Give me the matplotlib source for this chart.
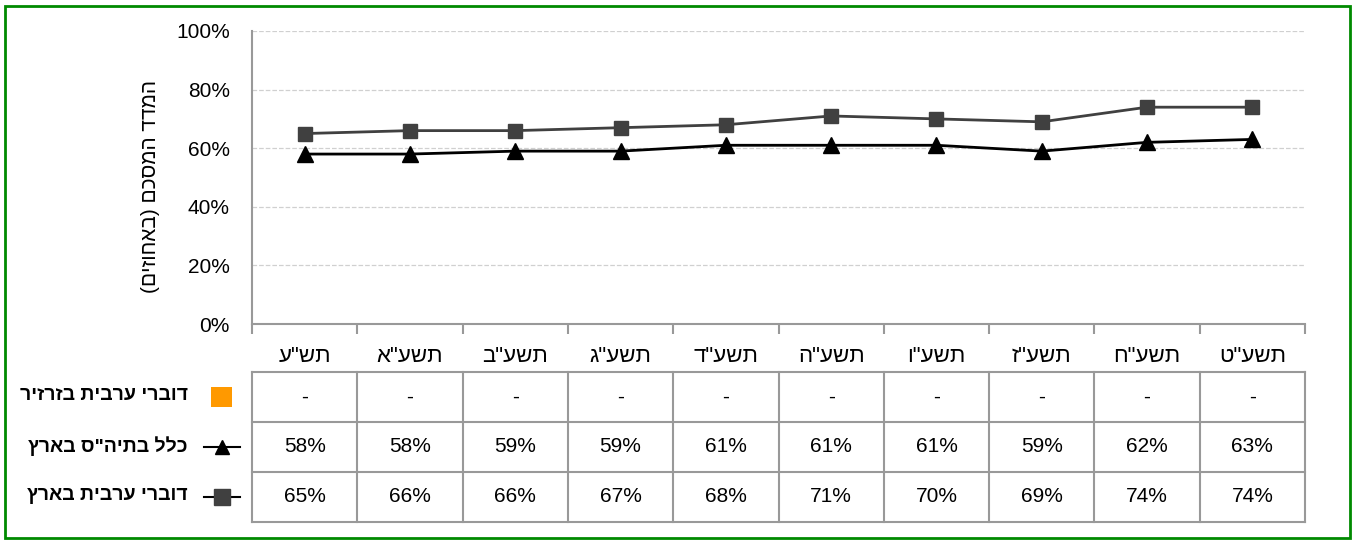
import matplotlib
matplotlib.use("Agg")
import matplotlib.pyplot as plt
from matplotlib.patches import Rectangle
from matplotlib.lines import Line2D

plt.rcParams['font.family'] = ['Liberation Sans', 'DejaVu Sans']

def heb(s):
    # matplotlib has no bidi: reverse for visual order, mirror brackets
    r = s[::-1]
    return r.translate(str.maketrans("()", ")("))

years = ['תש"ע', 'תשע"א', 'תשע"ב', 'תשע"ג', 'תשע"ד',
         'תשע"ה', 'תשע"ו', 'תשע"ז', 'תשע"ח', 'תשע"ט']
all_schools = [58, 58, 59, 59, 61, 61, 61, 59, 62, 63]
arab_country = [65, 66, 66, 67, 68, 71, 70, 69, 74, 74]
arab_rural = [None] * 10

name_rural = 'דוברי ערבית בזרזיר'
name_all = 'כלל בתיה"ס בארץ'
name_arab = 'דוברי ערבית בארץ'
ylabel = 'המדד המסכם (באחוזים)'

W, H = 1354, 544
fig = plt.figure(figsize=(W / 100, H / 100), dpi=100)

def box(l, t, r, b):
    return [l / W, 1 - b / H, (r - l) / W, (b - t) / H]

# green frame
fig.patches.append(Rectangle((5 / W, 6 / H), 1345 / W, 532 / H, transform=fig.transFigure,
                             fill=False, edgecolor='#008a00', linewidth=2))

ax = fig.add_axes(box(252, 31, 1305, 324))
x = list(range(len(years)))
ax.plot(x, [v / 100 for v in arab_country], color='#404040', lw=2, marker='s',
        markersize=10, markerfacecolor='#404040', markeredgecolor='#404040', zorder=3)
ax.plot(x, [v / 100 for v in all_schools], color='black', lw=2, marker='^',
        markersize=11, markerfacecolor='black', zorder=3)
ax.set_xlim(-0.5, len(years) - 0.5)
ax.set_ylim(0, 1)
ax.set_yticks([0, 0.2, 0.4, 0.6, 0.8, 1.0])
ax.set_yticklabels(['0%', '20%', '40%', '60%', '80%', '100%'], fontsize=15)
ax.yaxis.grid(True, color='#d0d0d0', linestyle='--', linewidth=0.9)
ax.set_axisbelow(True)
for s in ['top', 'right']:
    ax.spines[s].set_visible(False)
for s in ['left', 'bottom']:
    ax.spines[s].set_color('#999999')
    ax.spines[s].set_linewidth(1.5)
ax.tick_params(axis='y', length=0, pad=16)
ax.set_xticks([i - 0.5 for i in range(len(years) + 1)])
ax.set_xticklabels([])
ax.tick_params(axis='x', length=7, width=1.5, color='#999999', direction='out')
ax.set_ylabel(heb(ylabel), fontsize=15)
ax.yaxis.set_label_coords(-0.087, 0.47)
for i, y in enumerate(years):
    ax.text(i, -0.11, heb(y), ha='center', va='center', fontsize=16,
            transform=ax.get_xaxis_transform())

# data table
tab = fig.add_axes(box(252, 372, 1305, 522))
tab.set_xlim(-0.5, len(years) - 0.5)
tab.set_ylim(3, 0)
tab.axis('off')
grey = '#999999'
for r in range(4):
    tab.plot([-0.5, len(years) - 0.5], [r, r], color=grey, lw=1.5, clip_on=False)
for c in range(len(years) + 1):
    tab.plot([c - 0.5, c - 0.5], [0, 3], color=grey, lw=1.5, clip_on=False)
rows = [arab_rural, all_schools, arab_country]
for r, vals in enumerate(rows):
    for c, v in enumerate(vals):
        tab.text(c, r + 0.5, '-' if v is None else f'{v}%', ha='center', va='center',
                 fontsize=15)

# row legends
lx = 188 / W
for r, name in enumerate([name_rural, name_all, name_arab]):
    yc = 1 - (371 + 25 + 50 * r) / H
    fig.text(lx, yc, heb(name), ha='right', va='center', fontsize=14,
             fontweight='bold')
yc = 1 - 397 / H
fig.patches.append(Rectangle((211 / W, yc - 10 / H), 21 / W, 20 / H, transform=fig.transFigure,
                             facecolor='#ff9900', edgecolor='none', hatch='..'))
for r, (mk, col, ms) in enumerate([('^', 'black', 10), ('s', '#404040', 11)], start=1):
    yc = 1 - (372 + 25 + 50 * r) / H
    fig.add_artist(Line2D([204 / W, 240 / W], [yc, yc], color='black', lw=1.5,
                          transform=fig.transFigure))
    fig.add_artist(Line2D([222 / W], [yc], marker=mk, markersize=ms, color=col,
                          markerfacecolor=col, linestyle='none', transform=fig.transFigure))

fig.savefig('out.png', dpi=100)
